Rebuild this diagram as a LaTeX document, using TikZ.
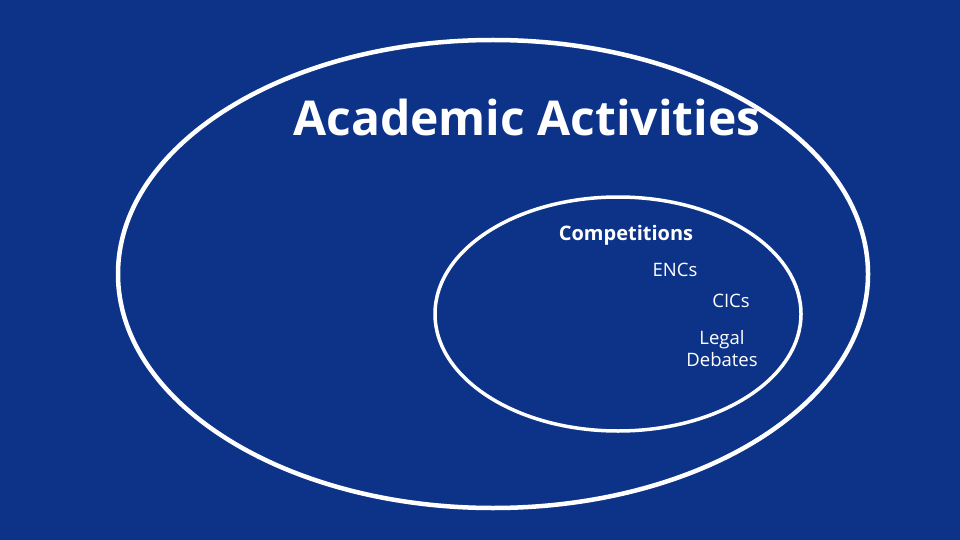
\documentclass[tikz,border=0pt]{standalone}
\usepackage{fontspec}
\setmainfont{Open Sans}
\usetikzlibrary{positioning}
\definecolor{slideblue}{HTML}{0D3388}
\definecolor{ringwhite}{HTML}{FFFFFF}
\tikzset{
  title/.style={font=\bfseries\fontsize{48}{56}\selectfont, text=ringwhite},
  heading/.style={font=\bfseries\fontsize{20}{24}\selectfont, text=ringwhite},
  item/.style={font=\fontsize{18.5}{22}\selectfont, text=ringwhite, align=center}
}
\begin{document}
\begin{tikzpicture}[x=1pt,y=-1pt]
\fill[slideblue] (0,0) rectangle (960,540);
\useasboundingbox (0,0) rectangle (960,540);
\draw[ringwhite, line width=4.5pt] (493,274) ellipse [x radius=375, y radius=234];
\draw[ringwhite, line width=3.5pt] (618,314) ellipse [x radius=183, y radius=117];
\node[title] (acad) at (527,118) {Academic Activities};
\node[heading] (comp) at (626,235) {Competitions};
\node[item] (encs) at (675,270) {ENCs};
\node[item] (cics) at (731,301) {CICs};
\node[item] (legal) at (722,349) {Legal\\Debates};
\end{tikzpicture}
\end{document}
